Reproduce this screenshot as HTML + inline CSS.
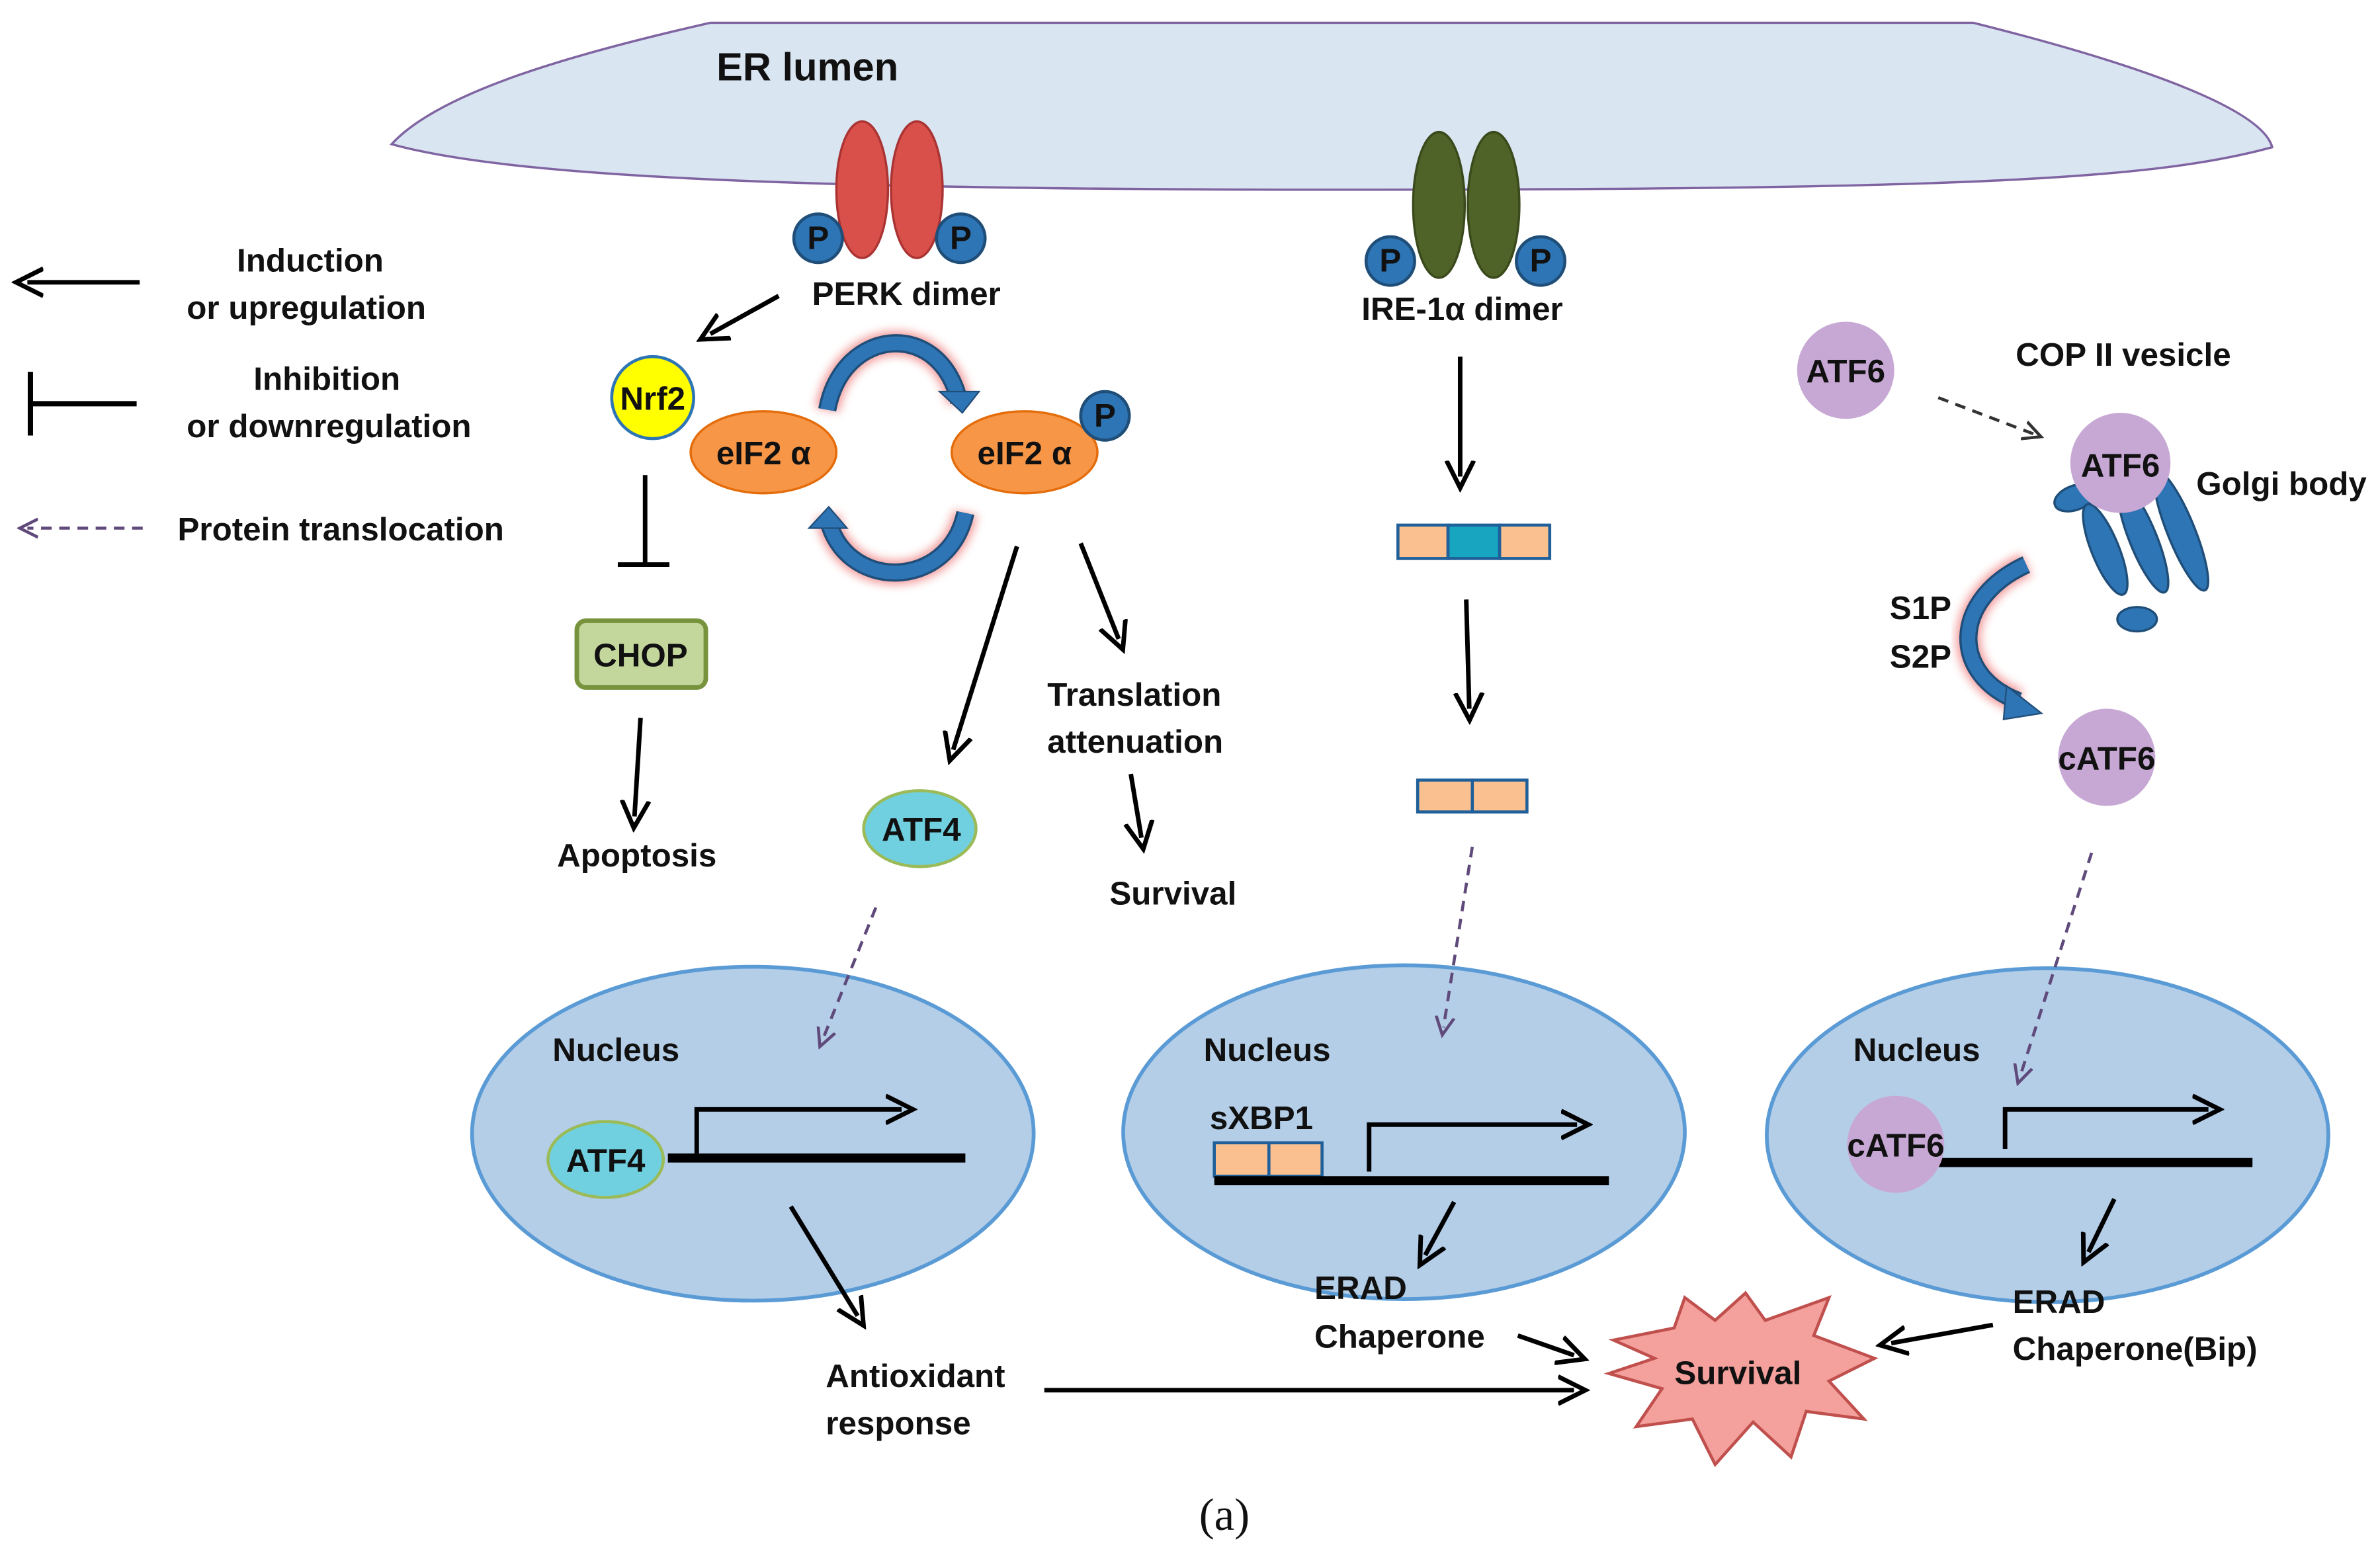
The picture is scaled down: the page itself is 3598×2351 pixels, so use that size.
<!DOCTYPE html>
<html><head><meta charset="utf-8"><style>
html,body{margin:0;padding:0;background:#fff;}
svg{display:block;}
text{font-family:"Liberation Sans",sans-serif;font-weight:bold;font-size:21.5px;fill:#111;}
</style></head><body>
<svg width="3598" height="2351" viewBox="0 0 1568 1024.6" xmlns="http://www.w3.org/2000/svg">
<defs>
<marker id="ahb" markerWidth="7" markerHeight="7" refX="3.5" refY="3.5" orient="auto" markerUnits="strokeWidth"><path d="M0,0.5 L6,3.5 L0,6.5" fill="none" stroke="#000" stroke-width="1"/></marker>
<marker id="ahd" markerWidth="7" markerHeight="7" refX="3.5" refY="3.5" orient="auto" markerUnits="strokeWidth"><path d="M0,0.5 L6,3.5 L0,6.5" fill="none" stroke="#604a7b" stroke-width="1"/></marker>
<marker id="ahk" markerWidth="7" markerHeight="7" refX="3.5" refY="3.5" orient="auto" markerUnits="strokeWidth"><path d="M0,0.5 L6,3.5 L0,6.5" fill="none" stroke="#333" stroke-width="1"/></marker>
<filter id="glow" x="-30%" y="-30%" width="160%" height="160%"><feGaussianBlur stdDeviation="3"/></filter>
</defs>

<!-- ER lumen -->
<path d="M468,15 L1300,15 C1400,40 1490,70 1497,97 C1420,118 1300,125 880,125 C500,125 330,115 258,95 C290,60 380,35 468,15 Z" fill="#d9e5f1" stroke="#8064a2" stroke-width="1.5"/>
<text x="472" y="53" style="font-size:26px">ER lumen</text>

<!-- PERK -->
<ellipse cx="568" cy="125" rx="17" ry="45" fill="#d9504a" stroke="#a33" stroke-width="1.5"/>
<ellipse cx="604" cy="125" rx="17" ry="45" fill="#d9504a" stroke="#a33" stroke-width="1.5"/>
<circle cx="539" cy="157" r="16" fill="#2e75b6" stroke="#1f4e79" stroke-width="2"/><text x="539" y="164" text-anchor="middle">P</text>
<circle cx="633" cy="157" r="16" fill="#2e75b6" stroke="#1f4e79" stroke-width="2"/><text x="633" y="164" text-anchor="middle">P</text>
<text x="535" y="201">PERK dimer</text>

<!-- IRE -->
<ellipse cx="948" cy="135" rx="17" ry="48" fill="#4f6228" stroke="#3a4a1c" stroke-width="1.5"/>
<ellipse cx="984" cy="135" rx="17" ry="48" fill="#4f6228" stroke="#3a4a1c" stroke-width="1.5"/>
<circle cx="916" cy="172" r="16" fill="#2e75b6" stroke="#1f4e79" stroke-width="2"/><text x="916" y="179" text-anchor="middle">P</text>
<circle cx="1015" cy="172" r="16" fill="#2e75b6" stroke="#1f4e79" stroke-width="2"/><text x="1015" y="179" text-anchor="middle">P</text>
<text x="897" y="211">IRE-1α dimer</text>

<!-- Legend -->
<line x1="92" y1="186" x2="18" y2="186" stroke="#000" stroke-width="3" marker-end="url(#ahb)"/>
<text x="156" y="179">Induction</text>
<text x="123" y="210">or upregulation</text>
<line x1="90" y1="266" x2="20" y2="266" stroke="#000" stroke-width="3.5"/>
<line x1="20" y1="245" x2="20" y2="287" stroke="#000" stroke-width="3.5"/>
<text x="167" y="257">Inhibition</text>
<text x="123" y="288">or downregulation</text>
<line x1="94" y1="348" x2="18" y2="348" stroke="#604a7b" stroke-width="2" stroke-dasharray="7,5" marker-end="url(#ahd)"/>
<text x="117" y="356">Protein translocation</text>

<!-- Nrf2 -->
<line x1="513" y1="195" x2="468" y2="220" stroke="#000" stroke-width="3" marker-end="url(#ahb)"/>
<circle cx="430" cy="262" r="27" fill="#ffff00" stroke="#2e75b6" stroke-width="2"/>
<text x="430" y="270" text-anchor="middle">Nrf2</text>
<line x1="425" y1="313" x2="425" y2="372" stroke="#000" stroke-width="3"/>
<line x1="407" y1="372" x2="441" y2="372" stroke="#000" stroke-width="3"/>
<rect x="380" y="409" width="85" height="44" rx="6" fill="#c3d69b" stroke="#77933c" stroke-width="3"/>
<text x="422" y="439" text-anchor="middle">CHOP</text>
<line x1="422" y1="473" x2="418" y2="538" stroke="#000" stroke-width="3" marker-end="url(#ahb)"/>
<text x="367" y="571">Apoptosis</text>

<!-- eIF2a -->
<g filter="url(#glow)" opacity="0.8"><path d="M545,270 C555,215 620,210 632,265" fill="none" stroke="#f08080" stroke-width="16"/><path d="M636,338 C625,390 555,390 545,340" fill="none" stroke="#f08080" stroke-width="16"/></g>
<path d="M545,270 C555,215 620,210 632,265" fill="none" stroke="#1f4e79" stroke-width="12"/>
<path d="M545,270 C555,215 620,210 632,265" fill="none" stroke="#2e75b6" stroke-width="9"/>
<path d="M619,258 L645,258 L634,272 Z" fill="#2e75b6" stroke="#1f4e79"/>
<path d="M636,338 C625,390 555,390 545,340" fill="none" stroke="#1f4e79" stroke-width="12"/>
<path d="M636,338 C625,390 555,390 545,340" fill="none" stroke="#2e75b6" stroke-width="9"/>
<path d="M533,348 L558,348 L546,334 Z" fill="#2e75b6" stroke="#1f4e79"/>
<ellipse cx="503" cy="298" rx="48" ry="27" fill="#f79646" stroke="#e46c0a" stroke-width="1.5"/>
<text x="503" y="306" text-anchor="middle">eIF2 α</text>
<ellipse cx="675" cy="298" rx="48" ry="27" fill="#f79646" stroke="#e46c0a" stroke-width="1.5"/>
<text x="675" y="306" text-anchor="middle">eIF2 α</text>
<circle cx="728" cy="274" r="16" fill="#2e75b6" stroke="#1f4e79" stroke-width="2"/><text x="728" y="281" text-anchor="middle">P</text>

<line x1="670" y1="360" x2="628" y2="494" stroke="#000" stroke-width="3" marker-end="url(#ahb)"/>
<ellipse cx="606" cy="546" rx="37" ry="25" fill="#70d0e0" stroke="#9bbb59" stroke-width="2"/>
<text x="607" y="554" text-anchor="middle">ATF4</text>
<line x1="712" y1="358" x2="737" y2="421" stroke="#000" stroke-width="3" marker-end="url(#ahb)"/>
<text x="690" y="465">Translation</text>
<text x="690" y="496">attenuation</text>
<line x1="745" y1="510" x2="752" y2="552" stroke="#000" stroke-width="3" marker-end="url(#ahb)"/>
<text x="731" y="596">Survival</text>

<!-- Nuclei -->
<ellipse cx="496" cy="747" rx="185" ry="110" fill="#b4cee8" stroke="#5b9bd5" stroke-width="2.5"/>
<ellipse cx="925" cy="746" rx="185" ry="110" fill="#b4cee8" stroke="#5b9bd5" stroke-width="2.5"/>
<ellipse cx="1349" cy="748" rx="185" ry="110" fill="#b4cee8" stroke="#5b9bd5" stroke-width="2.5"/>

<!-- dashed translocations -->
<line x1="577" y1="598" x2="542" y2="685" stroke="#604a7b" stroke-width="2" stroke-dasharray="7,5" marker-end="url(#ahd)"/>
<line x1="970" y1="558" x2="951" y2="677" stroke="#604a7b" stroke-width="2" stroke-dasharray="7,5" marker-end="url(#ahd)"/>
<line x1="1378" y1="562" x2="1331" y2="709" stroke="#604a7b" stroke-width="2" stroke-dasharray="7,5" marker-end="url(#ahd)"/>

<!-- Nucleus 1 -->
<text x="364" y="699">Nucleus</text>
<line x1="440" y1="763" x2="636" y2="763" stroke="#000" stroke-width="6"/>
<path d="M459,760 L459,731 L594,731" fill="none" stroke="#000" stroke-width="3" marker-end="url(#ahb)"/>
<ellipse cx="399" cy="764" rx="38" ry="25" fill="#70d0e0" stroke="#9bbb59" stroke-width="2"/>
<text x="399" y="772" text-anchor="middle">ATF4</text>
<line x1="521" y1="795" x2="565" y2="867" stroke="#000" stroke-width="3" marker-end="url(#ahb)"/>
<text x="544" y="914">Antioxidant</text>
<text x="544" y="945">response</text>
<line x1="688" y1="916" x2="1037" y2="916" stroke="#000" stroke-width="3" marker-end="url(#ahb)"/>

<!-- IRE path -->
<line x1="962" y1="235" x2="962" y2="314" stroke="#000" stroke-width="3" marker-end="url(#ahb)"/>
<rect x="921" y="346" width="33" height="22" fill="#fac090" stroke="#1f5f9a" stroke-width="2"/>
<rect x="954" y="346" width="34" height="22" fill="#17a5c0" stroke="#1f5f9a" stroke-width="2"/>
<rect x="988" y="346" width="33" height="22" fill="#fac090" stroke="#1f5f9a" stroke-width="2"/>
<line x1="966" y1="395" x2="968" y2="467" stroke="#000" stroke-width="3" marker-end="url(#ahb)"/>
<rect x="934" y="514" width="36" height="21" fill="#fac090" stroke="#1f5f9a" stroke-width="2"/>
<rect x="970" y="514" width="36" height="21" fill="#fac090" stroke="#1f5f9a" stroke-width="2"/>

<!-- Nucleus 2 -->
<text x="793" y="699">Nucleus</text>
<text x="797" y="744">sXBP1</text>
<rect x="800" y="753" width="36" height="22" fill="#fac090" stroke="#1f5f9a" stroke-width="2"/>
<rect x="836" y="753" width="35" height="22" fill="#fac090" stroke="#1f5f9a" stroke-width="2"/>
<line x1="800" y1="778" x2="1060" y2="778" stroke="#000" stroke-width="6"/>
<path d="M902,772 L902,741 L1039,741" fill="none" stroke="#000" stroke-width="3" marker-end="url(#ahb)"/>
<line x1="958" y1="792" x2="939" y2="827" stroke="#000" stroke-width="3" marker-end="url(#ahb)"/>
<text x="866" y="856">ERAD</text>
<text x="866" y="888">Chaperone</text>
<line x1="1000" y1="880" x2="1037" y2="893" stroke="#000" stroke-width="3" marker-end="url(#ahb)"/>

<!-- Survival star -->
<path d="M1063,883 L1103,875 L1110,855 L1130,870 L1150,852 L1163,870 L1205,855 L1195,880 L1235,895 L1205,910 L1228,935 L1190,930 L1180,960 L1155,937 L1130,965 L1115,935 L1078,940 L1095,915 L1060,905 L1090,895 Z" fill="#f4a09c" stroke="#c0504d" stroke-width="2"/>
<text x="1145" y="912" text-anchor="middle">Survival</text>

<!-- ATF6 -->
<circle cx="1216" cy="244" r="32" fill="#c7a8d4"/>
<text x="1216" y="252" text-anchor="middle">ATF6</text>
<text x="1328" y="241">COP II vesicle</text>
<line x1="1277" y1="262" x2="1340" y2="286" stroke="#333" stroke-width="2" stroke-dasharray="7,5" marker-end="url(#ahk)"/>
<g fill="#2e75b6" stroke="#1f4e79" stroke-width="1.5">
<ellipse cx="1367" cy="328" rx="14" ry="8" transform="rotate(-20 1367 328)"/>
<ellipse cx="1387" cy="362" rx="9" ry="32" transform="rotate(-22 1387 362)"/>
<ellipse cx="1412" cy="355" rx="9" ry="38" transform="rotate(-22 1412 355)"/>
<ellipse cx="1437" cy="350" rx="9" ry="42" transform="rotate(-22 1437 350)"/>
<ellipse cx="1408" cy="408" rx="13" ry="8"/>
</g>
<circle cx="1397" cy="305" r="33" fill="#c7a8d4"/>
<text x="1397" y="314" text-anchor="middle">ATF6</text>
<text x="1447" y="326">Golgi body</text>
<text x="1245" y="408">S1P</text>
<text x="1245" y="440">S2P</text>
<g filter="url(#glow)" opacity="0.8"><path d="M1335,372 C1285,395 1285,445 1330,462" fill="none" stroke="#f08080" stroke-width="16"/></g>
<path d="M1335,372 C1285,395 1285,445 1330,462" fill="none" stroke="#1f4e79" stroke-width="12"/>
<path d="M1335,372 C1285,395 1285,445 1330,462" fill="none" stroke="#2e75b6" stroke-width="9"/>
<path d="M1322,452 L1345,470 L1320,474 Z" fill="#2e75b6" stroke="#1f4e79"/>
<circle cx="1388" cy="499" r="32" fill="#c7a8d4"/>
<text x="1388" y="507" text-anchor="middle">cATF6</text>

<!-- Nucleus 3 -->
<text x="1221" y="699">Nucleus</text>
<line x1="1277" y1="766" x2="1484" y2="766" stroke="#000" stroke-width="6"/>
<path d="M1321,757 L1321,731 L1455,731" fill="none" stroke="#000" stroke-width="3" marker-end="url(#ahb)"/>
<circle cx="1249" cy="754" r="32" fill="#c7a8d4"/>
<text x="1249" y="762" text-anchor="middle">cATF6</text>
<line x1="1393" y1="790" x2="1376" y2="825" stroke="#000" stroke-width="3" marker-end="url(#ahb)"/>
<text x="1326" y="865">ERAD</text>
<text x="1326" y="896">Chaperone(Bip)</text>
<line x1="1313" y1="873" x2="1246" y2="885" stroke="#000" stroke-width="3" marker-end="url(#ahb)"/>

<text x="790" y="1008" style="font-family:'Liberation Serif',serif;font-weight:normal;font-size:30px">(a)</text>
</svg>
</body></html>
